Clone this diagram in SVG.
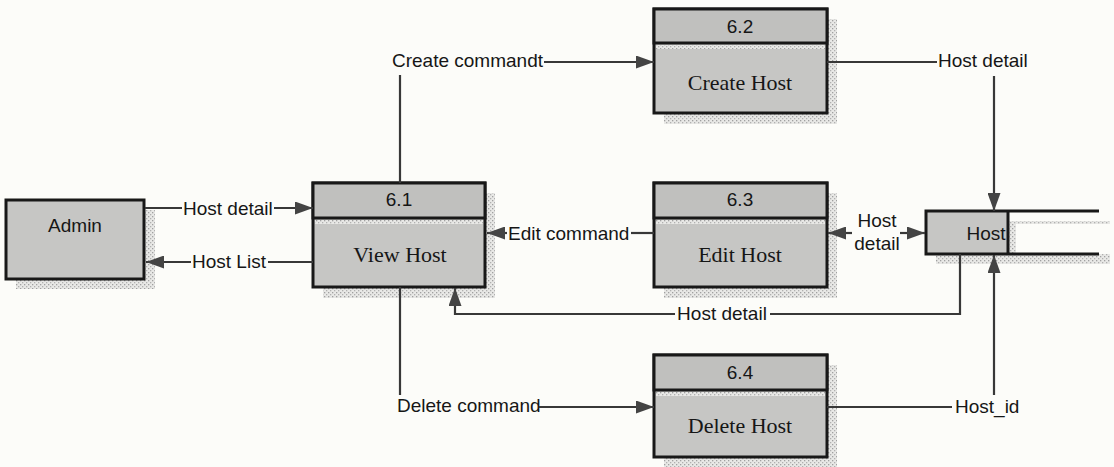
<svg xmlns="http://www.w3.org/2000/svg" width="1114" height="467" viewBox="0 0 1114 467">
  <defs>
    <!-- stippled drop shadow fill -->
    <pattern id="dots" width="4" height="4" patternUnits="userSpaceOnUse">
      <rect width="4" height="4" fill="#e8e8e6"/>
      <rect x="0" y="0" width="1.3" height="1.3" fill="#a0a0a0"/>
      <rect x="2" y="2" width="1.3" height="1.3" fill="#b0b0b0"/>
    </pattern>
    <marker id="arrow" viewBox="0 0 18 13" refX="18" refY="6.5" markerWidth="18" markerHeight="13" markerUnits="userSpaceOnUse" orient="auto">
      <path d="M0,0 L18,6.5 L0,13 z" fill="#444"/>
    </marker>
    <style>
      .box { fill: #c6c6c4; stroke: #181818; stroke-width: 3; }
      .head { fill: #c0c0be; stroke: #181818; stroke-width: 3; }
      .shadow { fill: url(#dots); }
      .edge { fill: none; stroke: #383838; stroke-width: 2.2; }
      .arrow { fill: none; stroke: #383838; stroke-width: 2.2; marker-end: url(#arrow); }
      .lbl { font-family: "Liberation Sans", Arial, sans-serif; font-size: 19px; fill: #161616; }
      .num { font-family: "Liberation Sans", Arial, sans-serif; font-size: 19px; fill: #161616; text-anchor: middle; }
      .name { font-family: "Liberation Serif", "Times New Roman", serif; font-size: 22px; fill: #161616; text-anchor: middle; }
    </style>
  </defs>

  <rect width="1114" height="467" fill="#fcfcf9"/>

  <!-- external entity -->
  <g id="admin">
    <rect class="shadow" x="16" y="210" width="139" height="79"/>
    <rect class="box" x="6" y="200" width="138" height="79"/>
    <text class="num" x="75" y="232">Admin</text>
  </g>

  <!-- processes -->
  <g id="p61">
    <rect class="shadow" x="323" y="193" width="172" height="105"/>
    <rect class="box" x="313" y="183" width="172" height="104"/>
    <rect class="head" x="313" y="183" width="172" height="35"/>
    <rect class="shadow" x="315" y="220" width="168" height="4"/>
    <text class="num" x="399" y="206">6.1</text>
    <text class="name" x="400" y="262">View Host</text>
  </g>

  <g id="p62">
    <rect class="shadow" x="664" y="19" width="173" height="105"/>
    <rect class="box" x="654" y="9" width="173" height="104"/>
    <rect class="head" x="654" y="9" width="173" height="34"/>
    <rect class="shadow" x="656" y="45" width="169" height="4"/>
    <text class="num" x="740" y="33">6.2</text>
    <text class="name" x="740" y="90">Create Host</text>
  </g>

  <g id="p63">
    <rect class="shadow" x="664" y="193" width="173" height="105"/>
    <rect class="box" x="654" y="183" width="173" height="104"/>
    <rect class="head" x="654" y="183" width="173" height="35"/>
    <rect class="shadow" x="656" y="220" width="169" height="4"/>
    <text class="num" x="740" y="206">6.3</text>
    <text class="name" x="740" y="262">Edit Host</text>
  </g>

  <g id="p64">
    <rect class="shadow" x="664" y="365" width="173" height="102"/>
    <rect class="box" x="654" y="355" width="173" height="102"/>
    <rect class="head" x="654" y="355" width="173" height="35"/>
    <rect class="shadow" x="656" y="392" width="169" height="4"/>
    <text class="num" x="740" y="379">6.4</text>
    <text class="name" x="740" y="433">Delete Host</text>
  </g>

  <!-- data store -->
  <g id="host">
    <rect class="shadow" x="1008" y="221" width="8" height="43"/>
    <rect class="shadow" x="1016" y="221" width="94" height="3"/>
    <rect class="shadow" x="936" y="254" width="174" height="10"/>
    <rect x="926" y="211" width="82" height="43" fill="#c6c6c4"/>
    <path d="M1099,211 H926 V254 H1099 M1008,211 V254" fill="none" stroke="#181818" stroke-width="3"/>
    <text class="lbl" x="986" y="240" text-anchor="middle">Host</text>
  </g>

  <!-- data flows -->
  <g id="connectors">
    <!-- Admin <-> View Host -->
    <line class="edge" x1="145" y1="208" x2="182" y2="208"/>
    <line class="arrow" x1="274" y1="208" x2="313" y2="208"/>
    <text class="lbl" x="183" y="215">Host detail</text>

    <line class="edge" x1="313" y1="262" x2="268" y2="262"/>
    <line class="arrow" x1="191" y1="262" x2="146" y2="262"/>
    <text class="lbl" x="192" y="268">Host List</text>

    <!-- View Host -> Create Host -->
    <line class="edge" x1="400" y1="183" x2="400" y2="75"/>
    <text class="lbl" x="392" y="67">Create commandt</text>
    <line class="arrow" x1="544" y1="62" x2="654" y2="62"/>

    <!-- Create Host -> Host -->
    <line class="edge" x1="827" y1="62" x2="937" y2="62"/>
    <text class="lbl" x="938" y="67">Host detail</text>
    <line class="arrow" x1="994" y1="76" x2="994" y2="211"/>

    <!-- Edit Host -> View Host -->
    <line class="edge" x1="654" y1="233" x2="631" y2="233"/>
    <text class="lbl" x="508" y="240">Edit command</text>
    <line class="arrow" x1="507" y1="233" x2="487" y2="233"/>

    <!-- Edit Host <-> Host -->
    <line class="arrow" x1="852" y1="233" x2="828" y2="233"/>
    <line class="arrow" x1="900" y1="233" x2="925" y2="233"/>
    <text class="lbl" x="877" y="227" text-anchor="middle">Host</text>
    <text class="lbl" x="877" y="250" text-anchor="middle">detail</text>

    <!-- Host -> View Host -->
    <polyline class="edge" points="960,254 960,314 770,314"/>
    <text class="lbl" x="722" y="320" text-anchor="middle">Host detail</text>
    <polyline class="arrow" points="675,314 455,314 455,288"/>

    <!-- View Host -> Delete Host -->
    <line class="edge" x1="400" y1="287" x2="400" y2="395"/>
    <text class="lbl" x="397" y="412">Delete command</text>
    <line class="arrow" x1="539" y1="407" x2="654" y2="407"/>

    <!-- Delete Host -> Host -->
    <line class="edge" x1="827" y1="407" x2="952" y2="407"/>
    <text class="lbl" x="955" y="413">Host_id</text>
    <line class="arrow" x1="994" y1="395" x2="994" y2="255"/>
  </g>
</svg>
